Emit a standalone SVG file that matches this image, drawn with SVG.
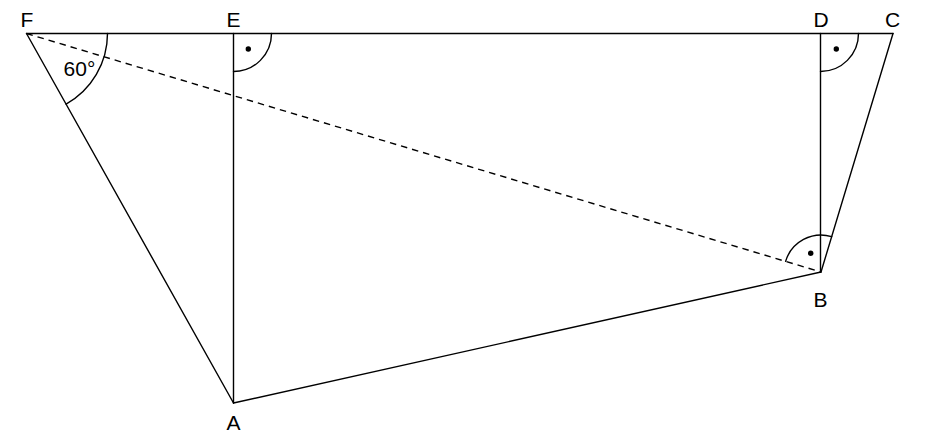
<svg xmlns="http://www.w3.org/2000/svg" width="944" height="440" viewBox="0 0 944 440">
<style>
.ln{stroke:#000;stroke-width:1.4;fill:none;stroke-linecap:round}
.ds{stroke-dasharray:6.5,5;stroke-linecap:butt}
.lb{font-family:"Liberation Sans",Arial,sans-serif;font-size:21px;fill:#000;text-anchor:middle}
.dot{fill:#000}
</style>
<rect width="944" height="440" fill="#fff"/>
<g id="connectors">
<line class="ln" x1="26.5" y1="33.5" x2="893" y2="33.5"/>
<line class="ln" x1="233.5" y1="33.5" x2="233.5" y2="403"/>
<line class="ln" x1="820.5" y1="33.5" x2="820.5" y2="272"/>
<line class="ln" x1="26.5" y1="33.5" x2="233.5" y2="403"/>
<line class="ln" x1="233.5" y1="403" x2="821" y2="272"/>
<line class="ln" x1="821" y1="272" x2="893" y2="33.5"/>
<line class="ln ds" x1="26.5" y1="33.5" x2="821" y2="272"/>
</g>
<g id="angles">
<path class="ln" d="M107.5 33.5 A81 81 0 0 1 66.1 104.1"/>
<path class="ln" d="M271.5 33.5 A38 38 0 0 1 233.5 71.5"/>
<circle class="dot" cx="248.3" cy="49" r="2.7"/>
<path class="ln" d="M858.5 33.5 A38 38 0 0 1 820.5 71.5"/>
<circle class="dot" cx="836.3" cy="49" r="2.7"/>
<path class="ln" d="M785.6 261.4 A37 37 0 0 1 831.7 236.6"/>
<circle class="dot" cx="810.7" cy="253.3" r="2.7"/>
</g>
<g id="F"><text class="lb" x="27" y="26.5">F</text></g>
<g id="E"><text class="lb" x="233.5" y="26.5">E</text></g>
<g id="D"><text class="lb" x="821" y="26.5">D</text></g>
<g id="C"><text class="lb" x="892.5" y="26.5">C</text></g>
<g id="B"><text class="lb" x="820.5" y="307">B</text></g>
<g id="A"><text class="lb" x="233.5" y="430">A</text></g>
<g id="angle-label"><text class="lb" x="79.5" y="76">60°</text></g>
</svg>
